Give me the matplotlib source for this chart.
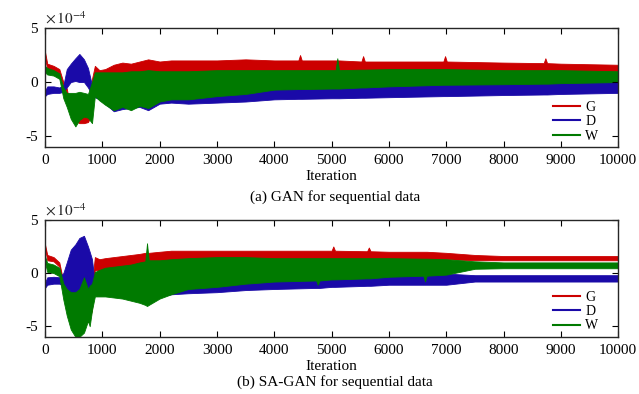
import numpy as np
import matplotlib
matplotlib.use("Agg")
import matplotlib.pyplot as plt

plt.rcParams['font.family'] = ['Liberation Serif', 'DejaVu Serif']
plt.rcParams['mathtext.fontset'] = 'stix'
plt.rcParams['axes.unicode_minus'] = False

# envelope of each loss curve (units of 1e-4)
# panel (a): GAN
it_a = [0, 40, 150, 250, 320, 380, 450, 530, 600, 680, 750, 820, 870, 950, 1050, 1200,
        1350, 1500, 1650, 1800, 2000, 2200, 2500, 3000, 3500, 4000, 4420, 4450, 4480,
        5000, 5070, 5100, 5130, 5520, 5550, 5580, 6000, 6950, 6980, 7010, 8000,
        8700, 8730, 8760, 9000, 10000]
g_hi_a = [2.8, 1.7, 1.5, 1.2, 0.0, -0.6, -2.5, -3.0, -2.8, -2.6, -2.5, 0.3, 1.5, 1.1, 1.2, 1.6,
          1.8, 1.7, 1.9, 2.1, 1.9, 2.0, 2.0, 2.0, 2.1, 2.0, 2.0, 2.5, 2.0,
          2.0, 2.0, 2.0, 2.0, 1.9, 2.4, 1.9, 1.9, 1.9, 2.4, 1.9, 1.8,
          1.75, 2.2, 1.75, 1.7, 1.6]
g_lo_a = [2.2, 1.2, 1.0, 0.8, -0.4, -1.0, -3.0, -3.6, -3.8, -3.8, -3.7, -3.0, 0.5, 0.3, 0.3, 0.5,
          0.5, 0.5, 0.6, 0.6, 0.6, 0.7, 0.8, 0.8, 0.9, 0.9, 0.9, 0.9, 0.9,
          1.0, 1.0, 1.0, 1.0, 1.0, 1.0, 1.0, 1.0, 1.0, 1.0, 1.0, 1.0,
          1.0, 1.0, 1.0, 1.0, 1.0]
d_hi_a = [-0.8, -0.4, -0.4, -0.5, -0.3, 1.2, 1.7, 2.2, 2.6, 2.1, 1.3, -0.3, -0.6, -0.5, -0.5, -0.5,
          -0.5, -0.5, -0.5, -0.5, -0.5, -0.4, -0.4, -0.3, -0.3, -0.2, -0.2, -0.2, -0.2,
          -0.2, -0.2, -0.2, -0.2, -0.15, -0.15, -0.15, -0.1, 0.0, 0.0, 0.0, 0.0,
          0.0, 0.0, 0.0, 0.0, 0.0]
d_lo_a = [-1.3, -1.1, -1.0, -1.0, -0.9, -0.5, 0.0, 0.1, 0.0, 0.0, -0.5, -1.2, -1.4, -1.6, -2.0, -2.7,
          -2.5, -2.4, -2.3, -2.6, -2.0, -1.9, -2.0, -1.9, -1.8, -1.6, -1.55, -1.55, -1.55,
          -1.5, -1.5, -1.5, -1.5, -1.45, -1.45, -1.45, -1.4, -1.3, -1.3, -1.3, -1.2,
          -1.15, -1.15, -1.15, -1.1, -1.0]
w_hi_a = [1.5, 1.3, 1.1, 0.8, -0.5, -1.0, -1.0, -1.0, -0.9, -1.0, -1.1, 0.0, 0.9, 0.9, 0.9, 0.9,
          0.9, 1.0, 1.0, 1.1, 1.0, 1.0, 1.0, 1.1, 1.1, 1.1, 1.1, 1.1, 1.1,
          1.1, 1.1, 2.2, 1.1, 1.15, 1.15, 1.15, 1.2, 1.2, 1.2, 1.2, 1.1,
          1.1, 1.1, 1.1, 1.1, 1.0]
w_lo_a = [0.9, 0.7, 0.6, 0.3, -1.5, -2.3, -3.4, -4.1, -3.5, -3.2, -3.3, -3.8, -1.3, -1.7, -2.1, -2.6,
          -2.3, -2.6, -2.2, -2.4, -1.8, -1.6, -1.6, -1.3, -1.1, -0.7, -0.65, -0.65, -0.65,
          -0.6, -0.6, -0.6, -0.6, -0.5, -0.5, -0.5, -0.4, -0.25, -0.25, -0.25, -0.2,
          -0.15, -0.15, -0.15, -0.1, 0.0]

# panel (b): SA-GAN
it_b = [0, 40, 150, 250, 320, 380, 450, 530, 600, 680, 750, 780, 820, 870, 950, 1050, 1200,
        1350, 1500, 1650, 1750, 1780, 1810, 2000, 2200, 2500, 3000, 3500, 4000,
        4730, 4760, 4790, 5000, 5030, 5060, 5620, 5650, 5680, 6000, 6600, 6630, 6660,
        7000, 7500, 8000, 9000, 10000]
g_hi_b = [2.7, 1.7, 1.5, 1.0, -0.8, -1.5, -3.0, -3.5, -3.5, -3.6, -3.5, -2.5, -1.0, 1.5, 1.3, 1.4, 1.5,
          1.6, 1.7, 1.8, 1.9, 1.9, 1.9, 2.0, 2.1, 2.1, 2.1, 2.1, 2.1,
          2.1, 2.1, 2.1, 2.1, 2.5, 2.1, 2.05, 2.4, 2.05, 2.0, 2.0, 2.0, 2.0,
          1.9, 1.7, 1.6, 1.6, 1.6]
g_lo_b = [2.3, 1.2, 1.1, 0.6, -1.3, -2.5, -3.8, -4.5, -4.6, -4.7, -4.6, -4.2, -3.5, 0.3, 0.2, 0.3, 0.4,
          0.5, 0.6, 0.7, 0.8, 0.8, 0.8, 0.9, 1.0, 1.1, 1.2, 1.2, 1.3,
          1.3, 1.3, 1.3, 1.3, 1.3, 1.3, 1.3, 1.3, 1.3, 1.3, 1.3, 1.3, 1.3,
          1.3, 1.2, 1.2, 1.2, 1.2]
d_hi_b = [-0.9, -0.4, -0.35, -0.4, 0.0, 1.0, 2.2, 2.7, 3.3, 3.5, 2.5, 2.0, 1.3, -1.0, -0.8, -0.8, -0.8,
          -0.8, -0.8, -0.8, -0.8, -0.8, -0.8, -0.7, -0.6, -0.5, -0.4, -0.3, -0.3,
          -0.25, -0.25, -0.25, -0.2, -0.2, -0.2, -0.15, -0.15, -0.15, -0.1, -0.05, -0.05, -0.05,
          -0.05, -0.2, -0.2, -0.2, -0.2]
d_lo_b = [-1.4, -1.1, -1.0, -1.0, -1.2, -1.8, -2.2, -2.3, -2.3, -2.0, -1.8, -1.6, -1.5, -1.8, -2.0, -2.1, -2.2,
          -2.3, -2.4, -2.3, -2.2, -2.2, -2.2, -2.2, -2.0, -1.9, -1.8, -1.6, -1.5,
          -1.4, -1.4, -1.4, -1.3, -1.3, -1.3, -1.2, -1.2, -1.2, -1.1, -1.1, -1.1, -1.1,
          -1.1, -0.8, -0.8, -0.8, -0.8]
w_hi_b = [1.6, 0.95, 0.8, 0.5, -1.0, -1.5, -1.8, -1.8, -1.5, -0.4, -1.5, -1.2, -1.0, 0.1, 0.3, 0.5, 0.6,
          0.7, 0.8, 1.0, 1.1, 2.8, 1.2, 1.2, 1.3, 1.4, 1.5, 1.5, 1.4,
          1.4, 1.4, 1.4, 1.4, 1.4, 1.4, 1.4, 1.4, 1.4, 1.4, 1.35, 1.35, 1.35,
          1.3, 1.1, 1.0, 1.0, 1.0]
w_lo_b = [1.0, 0.1, 0.0, -0.3, -2.5, -4.0, -5.3, -6.0, -6.0, -5.6, -4.5, -5.0, -3.5, -2.2, -2.2, -2.2, -2.3,
          -2.4, -2.6, -2.8, -3.0, -3.1, -3.0, -2.4, -2.0, -1.5, -1.3, -1.0, -0.8,
          -0.7, -1.1, -0.7, -0.6, -0.6, -0.6, -0.5, -0.5, -0.5, -0.35, -0.25, -0.8, -0.25,
          -0.15, 0.4, 0.45, 0.45, 0.45]

names = ['G', 'D', 'W']
colors = ['#cc0000', '#1a0aa8', '#007a00']
captions = ['(a) GAN for sequential data', '(b) SA-GAN for sequential data']

panels = [
    (it_a, [(g_lo_a, g_hi_a), (d_lo_a, d_hi_a), (w_lo_a, w_hi_a)]),
    (it_b, [(g_lo_b, g_hi_b), (d_lo_b, d_hi_b), (w_lo_b, w_hi_b)]),
]

fig = plt.figure(figsize=(6.39, 3.94), dpi=100)
ax_pos = [[0.0704, 0.627, 0.897, 0.302], [0.0704, 0.145, 0.897, 0.297]]
cap_y = [0.483, 0.012]

for p, (its, series) in enumerate(panels):
    ax = fig.add_axes(ax_pos[p])
    x = np.array(its)
    for (lo, hi), c, n in zip(series, colors, names):
        ax.fill_between(x, lo, hi, color=c, lw=0.6, edgecolor=c)
        ax.plot([], [], color=c, lw=1.5, label=n)
    ax.set_xlim(0, 10000)
    ax.set_ylim(-6, 5)
    ax.set_xticks(np.arange(0, 10001, 1000))
    ax.set_yticks([-5, 0, 5])
    ax.tick_params(direction='in', top=True, right=True, labelsize=11, length=4, pad=5)
    for s in ax.spines.values():
        s.set_linewidth(1.0)
        s.set_color('#262626')
    ax.set_xlabel('Iteration', fontsize=11, labelpad=2)
    ax.text(0.0, 1.01, r'$\times\,10^{-4}$', transform=ax.transAxes, fontsize=11,
            color='#262626', va='bottom', ha='left')
    ax.legend(loc='lower right', frameon=False, fontsize=10, handlelength=2.0,
              labelspacing=0.1, handletextpad=0.35, borderaxespad=0.0,
              bbox_to_anchor=(0.975, -0.01))
    fig.text(0.524, cap_y[p], captions[p], ha='center', va='bottom', fontsize=11)

fig.savefig('out.png', dpi=100)
